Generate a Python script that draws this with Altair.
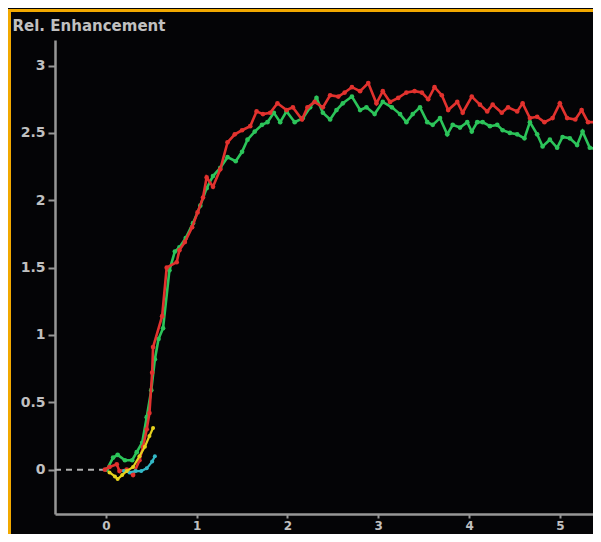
import altair as alt
import pandas as pd

# ---- data ----
red_x = [-0.01, 0.04, 0.12, 0.15, 0.23, 0.30, 0.37, 0.41, 0.45, 0.48, 0.51, 0.52, 0.62, 0.67, 0.78, 0.81, 0.87, 0.95,
         1.01, 1.07, 1.11, 1.18, 1.26, 1.34, 1.42, 1.50, 1.59, 1.66, 1.73, 1.81, 1.89, 1.99, 2.06, 2.16, 2.22, 2.30,
         2.39, 2.47, 2.56, 2.63, 2.71, 2.80, 2.89, 2.98, 3.05, 3.13, 3.22, 3.31, 3.40, 3.48, 3.55, 3.62, 3.70, 3.77,
         3.87, 3.93, 4.03, 4.12, 4.20, 4.26, 4.36, 4.43, 4.53, 4.59, 4.67, 4.75, 4.83, 4.92, 5.00, 5.08, 5.17, 5.24,
         5.31, 5.39, 5.44]
red_y = [0.00, 0.02, 0.04, -0.01, 0.00, -0.04, 0.07, 0.17, 0.30, 0.42, 0.72, 0.91, 1.14, 1.50, 1.54, 1.63, 1.69, 1.80,
         1.91, 2.02, 2.17, 2.10, 2.23, 2.43, 2.49, 2.52, 2.55, 2.66, 2.64, 2.65, 2.72, 2.67, 2.69, 2.60, 2.69, 2.73,
         2.69, 2.78, 2.77, 2.80, 2.84, 2.81, 2.87, 2.72, 2.81, 2.73, 2.76, 2.80, 2.81, 2.80, 2.75, 2.84, 2.78, 2.67,
         2.73, 2.65, 2.77, 2.71, 2.66, 2.71, 2.65, 2.69, 2.66, 2.72, 2.61, 2.62, 2.58, 2.61, 2.72, 2.61, 2.60, 2.67,
         2.58, 2.58, 2.55]

green_x = [0.01, 0.08, 0.13, 0.21, 0.29, 0.34, 0.40, 0.45, 0.50, 0.54, 0.58, 0.63, 0.70, 0.76, 0.81, 0.88, 0.96, 1.04,
           1.11, 1.18, 1.26, 1.34, 1.43, 1.50, 1.56, 1.64, 1.72, 1.78, 1.85, 1.92, 1.99, 2.08, 2.17, 2.25, 2.32, 2.39,
           2.47, 2.54, 2.61, 2.71, 2.80, 2.87, 2.96, 3.05, 3.15, 3.24, 3.31, 3.38, 3.46, 3.54, 3.60, 3.68, 3.76, 3.82,
           3.90, 3.98, 4.03, 4.09, 4.15, 4.23, 4.31, 4.37, 4.45, 4.53, 4.61, 4.67, 4.75, 4.81, 4.89, 4.97, 5.03, 5.11,
           5.19, 5.25, 5.33, 5.41, 5.45]
green_y = [0.00, 0.09, 0.11, 0.07, 0.07, 0.13, 0.20, 0.39, 0.59, 0.82, 0.97, 1.05, 1.48, 1.62, 1.65, 1.72, 1.83, 1.96,
           2.09, 2.18, 2.24, 2.32, 2.29, 2.36, 2.45, 2.51, 2.56, 2.58, 2.65, 2.58, 2.66, 2.58, 2.61, 2.69, 2.76, 2.65,
           2.60, 2.67, 2.72, 2.77, 2.67, 2.69, 2.64, 2.73, 2.69, 2.64, 2.58, 2.64, 2.69, 2.58, 2.56, 2.61, 2.49, 2.56,
           2.54, 2.58, 2.51, 2.58, 2.58, 2.55, 2.56, 2.52, 2.50, 2.49, 2.46, 2.58, 2.49, 2.40, 2.45, 2.39, 2.47, 2.46,
           2.41, 2.51, 2.39, 2.38, 2.38]

yellow_x = [0.04, 0.10, 0.13, 0.18, 0.23, 0.30, 0.37, 0.43, 0.48, 0.52]
yellow_y = [-0.02, -0.05, -0.07, -0.04, -0.01, 0.02, 0.10, 0.17, 0.25, 0.31]

cyan_x = [0.20, 0.26, 0.33, 0.39, 0.45, 0.51, 0.54]
cyan_y = [-0.01, -0.02, -0.01, -0.01, 0.01, 0.06, 0.10]

baseline_x = [-0.56, 0.0]
baseline_y = [0.0, 0.0]

x_ticks = [0, 1, 2, 3, 4, 5]
y_ticks = [0, 0.5, 1, 1.5, 2, 2.5, 3]

# ---- styling ----
AX = "#979797"
LAB = "#c0c0c0"
FONT = "DejaVu Sans"

xscale = alt.Scale(domain=[-0.56, 5.365], nice=False, zero=False)
yscale = alt.Scale(domain=[-0.329, 3.19], nice=False, zero=False)

xaxis = alt.Axis(values=x_ticks, title=None, grid=False, domainColor=AX, domainWidth=2.5,
                 tickColor=AX, tickWidth=2, tickSize=4, labelColor=LAB, labelFont=FONT,
                 labelFontSize=12, labelFontWeight="bold", labelPadding=2, format="d")
yaxis = alt.Axis(values=y_ticks, title="Rel. Enhancement", titleAngle=0, titleX=-43, titleY=-15,
                 titleAlign="left", titleBaseline="middle", titleColor=LAB, titleFont=FONT,
                 titleFontSize=15, titleFontWeight="bold", grid=False, domainColor=AX, domainWidth=2.5,
                 tickColor=AX, tickWidth=2, tickSize=7, labelColor=LAB, labelFont=FONT,
                 labelFontSize=14, labelFontWeight="bold", labelPadding=3, format="~g")


def series(xs, ys, color, size=22, width=2.6):
    df = pd.DataFrame({"t": xs, "v": ys})
    base = alt.Chart(df).encode(
        x=alt.X("t:Q", scale=xscale, axis=xaxis),
        y=alt.Y("v:Q", scale=yscale, axis=yaxis),
    )
    line = base.mark_line(color=color, strokeWidth=width, clip=True)
    pts = base.mark_circle(color=color, size=size, opacity=1, clip=True)
    return [line, pts]


base_df = pd.DataFrame({"t": baseline_x, "v": baseline_y})
dash = alt.Chart(base_df).mark_line(color="#b0b0b0", strokeWidth=2, strokeDash=[6, 5]).encode(
    x=alt.X("t:Q", scale=xscale, axis=xaxis),
    y=alt.Y("v:Q", scale=yscale, axis=yaxis),
)

# decorative orange frame (top and left edges of the picture)
frame_left = alt.Chart(base_df).mark_rule(color="#f2a900", strokeWidth=3).encode(
    x=alt.value(-45.5), y=alt.value(-31), y2=alt.value(510))
frame_top = alt.Chart(base_df).mark_rule(color="#f2a900", strokeWidth=3).encode(
    x=alt.value(-47), x2=alt.value(545), y=alt.value(-29.5))

layers = [dash]
layers += series(green_x, green_y, "#2cc45a")
layers += series(red_x, red_y, "#e2322e")
layers += series(cyan_x, cyan_y, "#33b8c6", size=16, width=2.2)
layers += series(yellow_x, yellow_y, "#e6d21e", size=16, width=2.2)
layers += [frame_left, frame_top]

chart = alt.layer(*layers).properties(
    width=538, height=474,
    background="#040406",
    padding={"left": 47, "top": 32, "right": 0, "bottom": 20},
    autosize=alt.AutoSizeParams(type="none"),
).configure_view(stroke=None)

chart.save("out.html", embed_options={"renderer": "svg", "actions": False})
